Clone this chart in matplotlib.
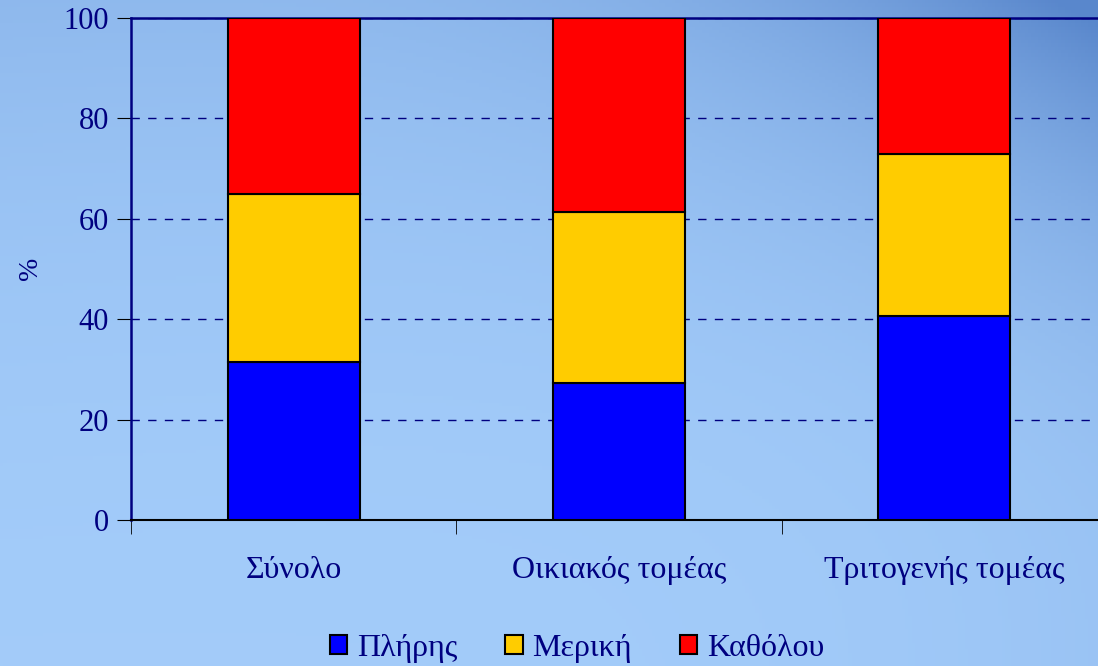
import numpy as np
import matplotlib.pyplot as plt
from matplotlib.patches import Patch

categories = ["Σύνολο", "Οικιακός τομέας", "Τριτογενής τομέας"]
full = [31.5, 27.3, 40.6]      # Πλήρης
partial = [33.4, 34.1, 32.3]   # Μερική
none_ = [35.1, 38.6, 27.1]     # Καθόλου
series_names = ["Πλήρης", "Μερική", "Καθόλου"]
series_colors = ["#0000ff", "#ffcc00", "#ff0000"]
yticks = [0, 20, 40, 60, 80, 100]

navy = "#000080"
plt.rcParams["font.family"] = ["Liberation Serif", "DejaVu Serif"]

fig = plt.figure(figsize=(10.98, 6.66), dpi=100)

# background gradient, light in the middle, darker towards the top right
bg = fig.add_axes([0, 0, 1, 1], zorder=-10)
h, w = 200, 330
yy, xx = np.mgrid[0:1:h * 1j, 0:1:w * 1j]
light = np.array([0.64, 0.80, 0.98])
dark = np.array([0.35, 0.53, 0.80])
t = (0.22 * (1 - yy) ** 2.5 + 0.75 * (xx * (1 - yy)) ** 3
     + 0.06 * (1 - xx) * (1 - yy) + 0.12 * xx ** 4)
t = np.clip(t, 0, 1)
img = light[None, None, :] * (1 - t[..., None]) + dark[None, None, :] * t[..., None]
bg.imshow(img, aspect="auto", extent=[0, 1, 0, 1], origin="upper")
bg.axis("off")

ax = fig.add_axes([131 / 1098, 1 - 520 / 666, 976 / 1098, 502 / 666])
ax.patch.set_alpha(0)

x = np.arange(len(categories))
bw = 0.405
bottom = np.zeros(len(categories))
for vals, name, col in zip([full, partial, none_], series_names, series_colors):
    ax.bar(x, vals, bw, bottom=bottom, color=col, edgecolor="black",
           linewidth=1.5, label=name, zorder=3)
    bottom += np.array(vals)

ax.set_xlim(-0.5, 2.5)
ax.set_ylim(0, 100)
ax.set_yticks(yticks)
ax.set_yticklabels([str(v) for v in yticks], color=navy, fontsize=22)
ax.set_xticks(x)
ax.set_xticklabels(categories, color=navy, fontsize=23)
ax.tick_params(axis="x", length=0, pad=26)
ax.set_xticks([-0.5, 0.5, 1.5], minor=True)
ax.tick_params(axis="x", which="minor", length=10, direction="out")
ax.tick_params(axis="y", length=10, direction="out", pad=6)

ax.yaxis.grid(True, linestyle=(0, (6, 6)), color=navy, linewidth=1, zorder=1)
ax.set_axisbelow(True)

for s in ["left", "top"]:
    ax.spines[s].set_color(navy)
    ax.spines[s].set_linewidth(1.8)
ax.spines["bottom"].set_color("black")
ax.spines["bottom"].set_linewidth(1.5)
ax.spines["right"].set_visible(False)

fig.text(30 / 1098, 1 - 268 / 666, "%", color=navy, fontsize=20,
         rotation=90, ha="center", va="center")

handles = [Patch(facecolor=c, edgecolor="black", linewidth=1.5) for c in series_colors]
fig.legend(handles, series_names, loc="center", bbox_to_anchor=(0.5255, 0.027),
           ncol=3, frameon=False, fontsize=23, labelcolor=navy,
           handlelength=0.55, handleheight=0.55, handletextpad=0.3, columnspacing=1.5)

fig.savefig("out.png", dpi=100)
